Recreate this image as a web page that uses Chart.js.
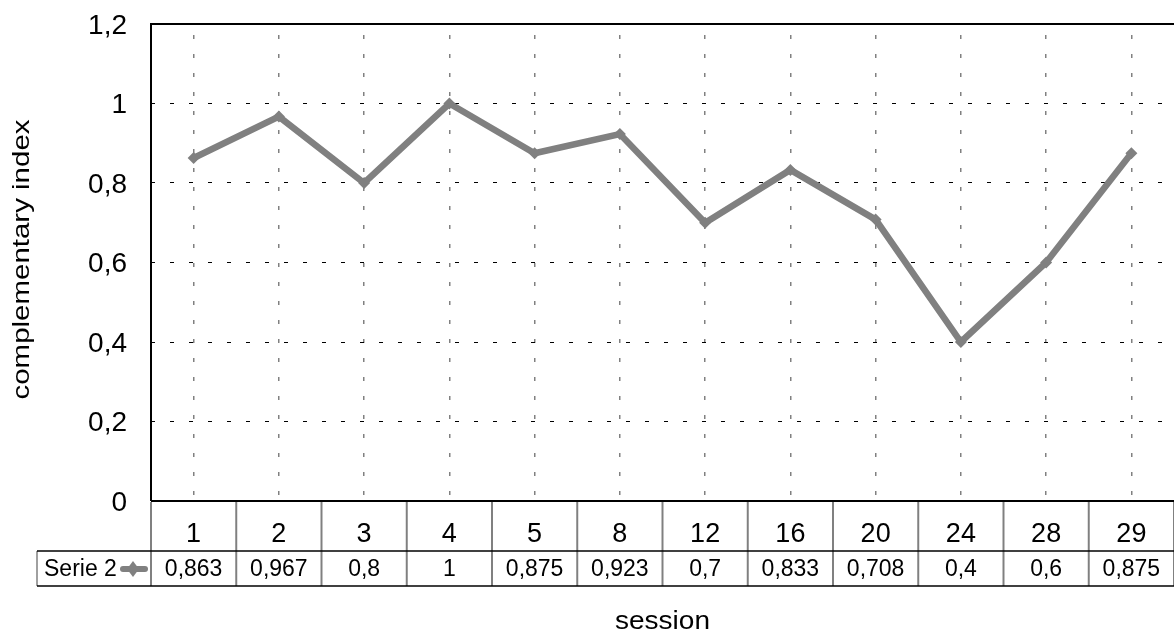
<!DOCTYPE html>
<html>
<head>
<meta charset="utf-8">
<script src="https://cdn.jsdelivr.net/npm/chart.js@4/dist/chart.umd.min.js"></script>
<style>
html,body{margin:0;padding:0;background:#fff;overflow:hidden;}
#wrap{width:1180px;height:637px;}
</style>
</head>
<body>
<div id="wrap"><canvas id="c" width="1180" height="637"></canvas></div>
<script>
const sessions = ['1','2','3','4','5','8','12','16','20','24','28','29'];
const serie2 = [0.863, 0.967, 0.8, 1, 0.875, 0.923, 0.7, 0.833, 0.708, 0.4, 0.6, 0.875];
const serieName = 'Serie 2';
const yTicks = [0, 0.2, 0.4, 0.6, 0.8, 1, 1.2];
const yTitle = 'complementary index';
const xTitle = 'session';

const FONT = '"Liberation Sans", Arial, sans-serif';
const GREY = '#808080';

function fmt(v){ return String(Math.round(v*1000)/1000).replace('.', ','); }

function fitText(ctx, text, x, y, size, targetW, rot){
  ctx.save();
  ctx.font = size + 'px ' + FONT;
  const w = ctx.measureText(text).width;
  ctx.translate(x, y);
  if (rot) ctx.rotate(rot);
  ctx.scale(targetW / w, 1);
  ctx.textAlign = 'center'; ctx.textBaseline = 'middle';
  ctx.fillStyle = '#000';
  ctx.fillText(text, 0, 0);
  ctx.restore();
}

const tablePlugin = {
  id: 'tablePlugin',
  afterDraw(chart){
    const ctx = chart.ctx;
    const ca = chart.chartArea;
    const xs = chart.scales.x;
    const ys = chart.scales.y;
    const n = sessions.length;
    const w = (ca.right - ca.left) / n;
    const r1 = ca.bottom, r2 = ca.bottom + 50, r3 = ca.bottom + 85;
    const leftCell = 37;
    ctx.save();
    // plot frame (top, left, bottom)
    ctx.strokeStyle = '#000'; ctx.lineWidth = 2;
    ctx.beginPath(); ctx.moveTo(ca.left - 1, ca.top); ctx.lineTo(ca.right, ca.top); ctx.stroke();
    ctx.beginPath(); ctx.moveTo(ca.left, ca.top); ctx.lineTo(ca.left, ca.bottom); ctx.stroke();
    ctx.beginPath(); ctx.moveTo(ca.left, ca.bottom); ctx.lineTo(ca.right, ca.bottom); ctx.stroke();
    // vertical grey lines of table
    ctx.strokeStyle = GREY; ctx.lineWidth = 2;
    for (let k = 0; k <= n; k++) {
      const x = ca.left + k * w;
      ctx.beginPath(); ctx.moveTo(x, r1 + 1); ctx.lineTo(x, r3); ctx.stroke();
    }
    ctx.lineWidth = 1.5;
    ctx.beginPath(); ctx.moveTo(leftCell, r2); ctx.lineTo(leftCell, r3); ctx.stroke();
    // horizontal black lines
    ctx.strokeStyle = '#000'; ctx.lineWidth = 1.5;
    ctx.beginPath(); ctx.moveTo(leftCell, r2); ctx.lineTo(ca.right, r2); ctx.stroke();
    ctx.beginPath(); ctx.moveTo(leftCell, r3); ctx.lineTo(ca.right, r3); ctx.stroke();
    // y tick labels
    ctx.fillStyle = '#000';
    ctx.textAlign = 'right'; ctx.textBaseline = 'middle';
    ctx.font = '28px ' + FONT;
    yTicks.forEach(v => ctx.fillText(fmt(v), 127, ys.getPixelForValue(v) + 2));
    // table labels
    ctx.textAlign = 'center';
    ctx.font = '27px ' + FONT;
    for (let i = 0; i < n; i++) {
      ctx.fillText(sessions[i], xs.getPixelForValue(i), r1 + 34);
    }
    ctx.font = '23px ' + FONT;
    for (let i = 0; i < n; i++) {
      ctx.fillText(fmt(serie2[i]), xs.getPixelForValue(i), r2 + 19);
    }
    ctx.textAlign = 'left';
    ctx.fillText(serieName, 44, r2 + 19);
    // legend key
    ctx.strokeStyle = GREY; ctx.lineWidth = 6; ctx.lineCap = 'round';
    ctx.beginPath(); ctx.moveTo(123, r2 + 18); ctx.lineTo(145, r2 + 18); ctx.stroke();
    ctx.fillStyle = GREY;
    ctx.beginPath();
    const kx = 133, ky = r2 + 18;
    ctx.moveTo(kx, ky - 8); ctx.lineTo(kx + 6, ky); ctx.lineTo(kx, ky + 8); ctx.lineTo(kx - 6, ky); ctx.closePath(); ctx.fill();
    ctx.restore();
    // titles
    fitText(ctx, xTitle, (ca.left + ca.right) / 2, 622, 26, 95, 0);
    fitText(ctx, yTitle, 22, (ca.top + ca.bottom) / 2 - 3, 24, 280, -Math.PI / 2);
  }
};

new Chart(document.getElementById('c'), {
  type: 'line',
  data: {
    labels: sessions,
    datasets: [{
      label: serieName,
      data: serie2,
      borderColor: GREY,
      backgroundColor: GREY,
      borderWidth: 6.5,
      pointStyle: 'rectRot',
      pointRadius: 6,
      pointBorderWidth: 0,
      pointBackgroundColor: GREY,
      tension: 0
    }]
  },
  options: {
    responsive: false,
    animation: false,
    events: [],
    layout: { padding: { top: 24, right: 2, left: 0, bottom: 0 } },
    plugins: { legend: { display: false }, tooltip: { enabled: false } },
    scales: {
      x: {
        type: 'category',
        offset: true,
        afterFit(s){ s.height = 136; },
        ticks: { display: false },
        grid: { offset: false, drawTicks: false, color: GREY, lineWidth: 1.5 },
        border: { display: false, dash: [4, 15], dashOffset: 8 }
      },
      y: {
        min: 0, max: 1.2,
        afterFit(s){ s.width = 151; },
        afterBuildTicks(s){ s.ticks = yTicks.map(v => ({ value: v })); },
        ticks: { display: false },
        grid: { drawTicks: false, color: '#000', lineWidth: 1 },
        border: { display: false, dash: [4, 15] },
        title: { display: false }
      }
    }
  },
  plugins: [tablePlugin]
});
</script>
</body>
</html>
